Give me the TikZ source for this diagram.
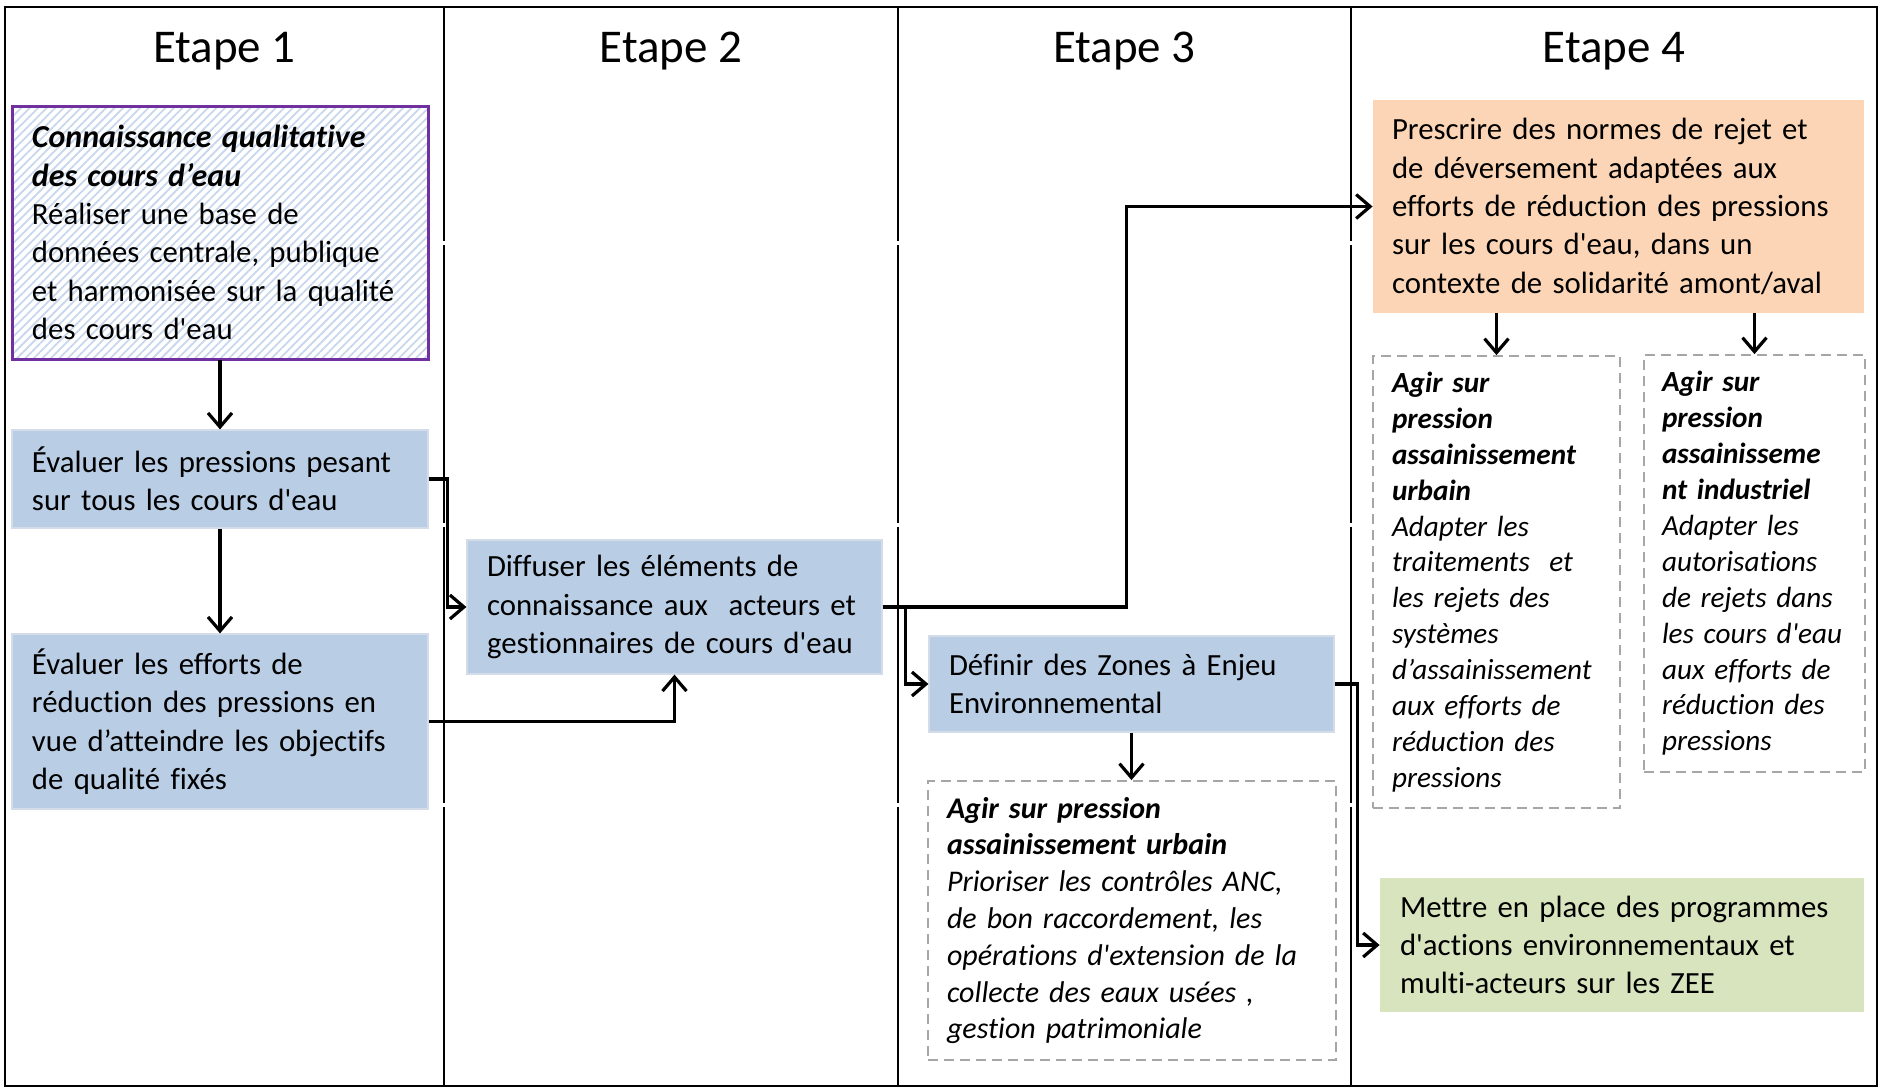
\documentclass[tikz,border=0pt]{standalone}
\usepackage{fontspec}
\setmainfont{Carlito}[Ligatures={TeXOff,CommonOff}]
\usetikzlibrary{arrows.meta,calc,patterns.meta}
\definecolor{cblue}{HTML}{B9CDE5}
\definecolor{cblueb}{HTML}{D3DCE8}
\definecolor{corange}{HTML}{FBD5B5}
\definecolor{cgreen}{HTML}{D7E4BD}
\definecolor{cpurple}{HTML}{7030A0}
\definecolor{cdash}{HTML}{A6A6A6}
\definecolor{chatch}{HTML}{C8D7EC}
\newcommand\BI[1]{{\fontsize{16}{19.2}\selectfont\textbf{\textit{#1}}}}
\hyphenpenalty=10000
\exhyphenpenalty=10000
\begin{document}
\begin{tikzpicture}[x=0.5pt,y=-0.5pt,
  txt/.style={align=left, inner ysep=0pt, font=\fontsize{15.4}{19.2}\selectfont},
  bluebox/.style={txt, fill=cblue, draw=cblueb, line width=0.6pt},
  orangebox/.style={txt, fill=corange},
  greenbox/.style={txt, fill=cgreen},
  hatchbox/.style={txt, draw=cpurple, line width=1.5pt,
    pattern={Lines[angle=45,distance=3pt,line width=0.9pt]}, pattern color=chatch},
  dashbox/.style={align=left, inner ysep=0pt, draw=cdash, line width=0.9pt,
    dash pattern=on 5pt off 3pt, font=\fontsize{15}{18.4}\selectfont\itshape},
  dashboxs/.style={dashbox, font=\fontsize{14.6}{17.95}\selectfont\itshape},
  head/.style={anchor=base, inner sep=0pt, font=\fontsize{23.5}{28}\selectfont},
  arr/.style={line width=1.6pt, -{Straight Barb[length=7pt,width=12pt]}}
]
\useasboundingbox (0,0) rectangle (1881,1088);
% frame and columns
\draw[line width=1.25pt] (5,7) rectangle (1877,1086);
\foreach \x in {444,898,1351} \draw[line width=1pt] (\x,7) -- (\x,1086);
\foreach \x in {444,898,1351} \foreach \y in {243,525,805}
  \fill[white] (\x-3,\y-2) rectangle (\x+3,\y+2);
% headers
\node[head] (h1) at (224.5,62) {Etape 1};
\node[head] (h2) at (671,62) {Etape 2};
\node[head] (h3) at (1124.5,62) {Etape 3};
\node[head] (h4) at (1614,62) {Etape 4};
% Etape 1
\node[hatchbox, minimum width=208pt, minimum height=126.5pt, inner xsep=10pt, text width=188pt] (k) at (220,232.5)
  {\BI{Connaissance qualitative}\\\BI{des cours d’eau}\\Réaliser une base de\\données centrale, publique\\et harmonisée sur la qualité\\des cours d'eau};
\node[bluebox, minimum width=208pt, minimum height=49pt, inner xsep=10pt, text width=188pt] (ev1) at (220,479)
  {Évaluer les pressions pesant\\sur tous les cours d'eau};
\node[bluebox, minimum width=208pt, minimum height=87.5pt, inner xsep=10pt, text width=188pt] (ev2) at (220,721.5)
  {Évaluer les efforts de\\réduction des pressions en\\vue d’atteindre les objectifs\\de qualité fixés};
% Etape 2
\node[bluebox, minimum width=207.5pt, minimum height=67pt, inner xsep=10pt, text width=187.5pt] (diff) at (674.5,607)
  {Diffuser les éléments de\\connaissance aux\ \ acteurs et\\gestionnaires de cours d'eau};
% Etape 3
\node[bluebox, minimum width=202.5pt, minimum height=48pt, inner xsep=10pt, text width=182.5pt] (defin) at (1131.5,684)
  {Définir des Zones à Enjeu\\Environnemental};
\node[dashbox, minimum width=204pt, minimum height=139.5pt, inner xsep=9.5pt, text width=185pt] (box3) at (1132,920.5)
  {\textbf{Agir sur pression}\\\textbf{assainissement urbain}\\Prioriser les contrôles ANC,\\de bon raccordement, les\\opérations d'extension de la\\collecte des eaux usées ,\\gestion patrimoniale};
% Etape 4
\node[orangebox, minimum width=245.5pt, minimum height=106.5pt, inner xsep=9.5pt, text width=226.5pt] (orange) at (1618.5,206.5)
  {Prescrire des normes de rejet et\\de déversement adaptées aux\\efforts de réduction des pressions\\sur les cours d'eau, dans un\\contexte de solidarité amont/aval};
\node[dashboxs, minimum width=123.5pt, minimum height=226pt, inner xsep=9.5pt, text width=104.5pt] (d1) at (1496.5,582)
  {\textbf{Agir sur}\\\textbf{pression}\\\textbf{assainissement}\\\textbf{urbain}\\Adapter les\\traitements\ \ et\\les rejets des\\systèmes\\d’assainissement\\aux efforts de\\réduction des\\pressions};
\node[dashboxs, minimum width=110.5pt, minimum height=208.5pt, inner xsep=9pt, text width=92.5pt] (d2) at (1754.5,563.5)
  {\textbf{Agir sur}\\\textbf{pression}\\\textbf{assainisseme}\\\textbf{nt industriel}\\Adapter les\\autorisations\\de rejets dans\\les cours d'eau\\aux efforts de\\réduction des\\pressions};
\node[greenbox, minimum width=242pt, minimum height=67pt, inner xsep=10pt, text width=222pt] (green) at (1622,945)
  {Mettre en place des programmes\\d'actions environnementaux et\\multi-acteurs sur les ZEE};
% connectors
\draw[arr] (k.south) -- (ev1.north);
\draw[arr] (ev1.south) -- (ev2.north);
\draw[arr] (ev1.east) -- ++(19,0) |- (diff.west);
\draw[arr] (ev2.east) -| (diff.south);
\draw[arr] (diff.east) -| ($(orange.west)+(-246,0)$) -- (orange.west);
\draw[arr] (diff.east) -- ++(23,0) |- (defin.west);
\draw[arr] (defin.south) -- (defin.south |- box3.north);
\draw[arr] (defin.east) -- ++(23,0) |- (green.west);
\draw[arr] (d1.north |- orange.south) -- (d1.north);
\draw[arr] (d2.north |- orange.south) -- (d2.north);
\end{tikzpicture}
\end{document}
